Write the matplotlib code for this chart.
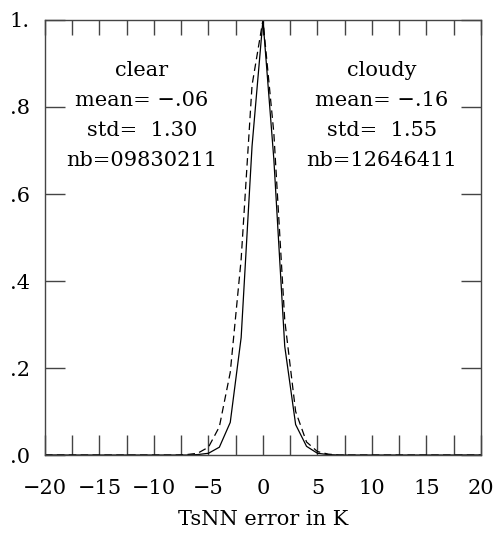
import numpy as np
import matplotlib
matplotlib.use("Agg")
import matplotlib.pyplot as plt

# TsNN error histograms (normalised to peak), 1 K bins
err_k = list(range(-20, 21))
clear_pts = {-7: 0.0, -6: 0.001, -5: 0.004, -4: 0.018, -3: 0.075, -2: 0.27,
             -1: 0.71, 0: 1.0, 1: 0.68, 2: 0.25, 3: 0.07, 4: 0.02, 5: 0.004, 6: 0.001}
cloudy_pts = {-7: 0.001, -6: 0.004, -5: 0.018, -4: 0.065, -3: 0.19, -2: 0.45,
              -1: 0.85, 0: 1.0, 1: 0.74, 2: 0.31, 3: 0.10, 4: 0.03, 5: 0.008, 6: 0.002}
clear = [clear_pts.get(k, 0.0) for k in err_k]
cloudy = [cloudy_pts.get(k, 0.0) for k in err_k]

clear_txt = ["clear", "mean= \u2212.06", "std=  1.30", "nb=09830211"]
cloudy_txt = ["cloudy", "mean= \u2212.16", "std=  1.55", "nb=12646411"]

xticks = list(np.arange(-20, 20.1, 2.5))
xtick_labels = ["" if t % 5 else ("\u2212%d" % -t if t < 0 else "%d" % t) for t in xticks]
yticks = [0.0, 0.2, 0.4, 0.6, 0.8, 1.0]
ytick_labels = [".0", ".2", ".4", ".6", ".8", "1."]

plt.rcParams['font.family'] = ['DejaVu Serif']
plt.rcParams['font.size'] = 15

fig = plt.figure(figsize=(5.03, 5.33), dpi=100)
ax = fig.add_axes([0.0895, 0.1463, 0.8665, 0.8162])

ax.plot(err_k, clear, color='black', lw=0.9)
ax.plot(err_k, cloudy, color='black', lw=0.9, dashes=(6, 3.5))

ax.set_xlim(-20, 20)
ax.set_ylim(0, 1)

ax.set_xticks(xticks)
ax.set_xticklabels(xtick_labels)
ax.set_yticks(yticks)
ax.set_yticklabels(ytick_labels)

ax.tick_params(axis='x', direction='in', length=14.4, width=1,
               color='#444444', pad=17, bottom=True, top=False)
ax.tick_params(axis='y', direction='in', length=14.4, width=1,
               color='#444444', pad=11, left=True, right=True)

top = ax.secondary_xaxis('top')
top.set_xticks(xticks)
top.set_xticklabels([])
top.tick_params(direction='in', length=10.8, width=1, color='#444444')
for s in top.spines.values():
    s.set_visible(False)

for s in ax.spines.values():
    s.set_color('#444444')
    s.set_linewidth(1)

ax.set_xlabel("TsNN error in K", labelpad=9)

for i, t in enumerate(clear_txt):
    ax.text(-11.1, 0.885 - i * 0.069, t, ha='center', va='center')
for i, t in enumerate(cloudy_txt):
    ax.text(10.9, 0.885 - i * 0.069, t, ha='center', va='center')

fig.savefig("out.png", dpi=100)
